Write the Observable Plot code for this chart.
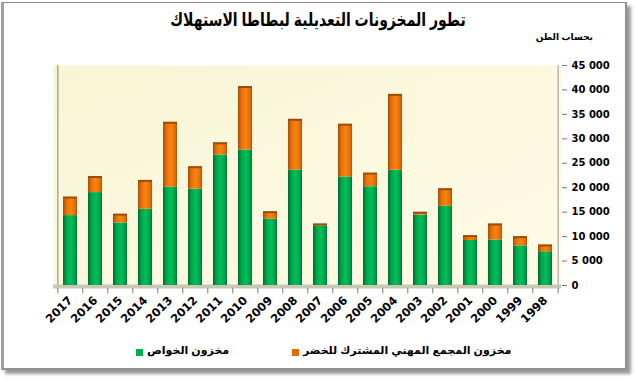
<!DOCTYPE html>
<html><head><meta charset="utf-8">
<script src="https://cdn.jsdelivr.net/npm/d3@7"></script>
<script src="https://cdn.jsdelivr.net/npm/@observablehq/plot@0.6"></script>
<style>
body{margin:0;background:#fff;}
#wrap{position:relative;width:635px;height:380px;overflow:hidden;font-family:"Liberation Sans","DejaVu Sans",sans-serif;background:#fff;}
#frame{position:absolute;left:1px;top:2px;width:621px;height:365px;border-top:1px solid #8a8a8a;border-left:3px solid #a0a0a0;border-right:2px solid #909090;border-bottom:2px solid #909090;box-shadow:4px 4px 3px #9a9a9a;}
#chart{position:absolute;left:0;top:0;}
#title{position:absolute;left:0;top:11px;width:636px;text-align:center;font-weight:bold;font-size:14px;color:#000;transform:scale(1,1.3);transform-origin:50% 50%;}
#unit{position:absolute;right:42px;top:32px;font-size:9px;font-weight:bold;color:#000;white-space:nowrap;}
.sq{position:absolute;width:7px;height:7px;}
.lt{position:absolute;font-size:11px;font-weight:bold;color:#000;white-space:nowrap;}
</style></head><body>
<div id="wrap">
<div id="frame"></div>
<div id="chart"></div>
<div id="title" dir="rtl">تطور المخزونات التعديلية لبطاطا الاستهلاك</div>
<div id="unit" dir="rtl">بحساب الطن</div>
<div class="sq" style="left:136px;top:349px;background:#00B050"></div>
<div class="lt" id="l1" dir="rtl" style="left:147px;top:344px"></div>
<div class="sq" style="left:292px;top:349px;background:#E36C0A"></div>
<div class="lt" id="l2" dir="rtl" style="left:303px;top:344px"></div>
</div>
<script>
const years = ["2017","2016","2015","2014","2013","2012","2011","2010","2009","2008","2007","2006","2005","2004","2003","2002","2001","2000","1999","1998"];
const privateStock = [14300,19000,12800,15600,20100,19700,26700,27700,13600,23600,12200,22200,20200,23600,14400,16200,9200,9300,8100,6900];
const commonStock = [3700,3200,1700,5800,13200,4500,2400,12900,1400,10300,300,10700,2700,15400,500,3500,900,3200,1800,1300];
const seriesNames = ["مخزون الخواص","مخزون المجمع المهني المشترك للخضر"];
const yTicks = [0,5000,10000,15000,20000,25000,30000,35000,40000,45000];

document.getElementById("l1").textContent = seriesNames[0];
document.getElementById("l2").textContent = seriesNames[1];

const rows = years.map((y,i)=>({year:y, priv:privateStock[i], common:commonStock[i], total:privateStock[i]+commonStock[i]}));
const step = 508/20;
const fmt = d => d3.format(",")(d).replace(/,/g," ");

const svg = Plot.plot({
  width: 635, height: 335,
  marginTop: 65, marginBottom: 50, marginLeft: 53, marginRight: 74,
  style: {background:"transparent", fontFamily:"'DejaVu Sans',sans-serif"},
  x: {domain: years, paddingInner: 0.45, paddingOuter: 0.225},
  y: {domain: [0,45000]},
  marks: [
    Plot.frame({fill:"url(#gWall)", stroke:null}),
    Plot.ruleX([years[0]], {dx: -step/2, y1: 0, y2: 45000, stroke:"#a8a8a0", strokeWidth:1.5}),
    Plot.ruleX([years[years.length-1]], {dx: step/2, y1: 0, y2: 45000, stroke:"#b8b8b0", strokeWidth:1.5}),
    Plot.ruleY([0], {stroke:"#c9c8b4", strokeWidth:4, dy:1}),
    Plot.ruleX(years, {dx: -step/2, y1: -600, y2: -1700, stroke:"#777"}),
    Plot.ruleX([years[years.length-1]], {dx: step/2, y1: -600, y2: -1700, stroke:"#777"}),
    Plot.barY(rows, {x:"year", y1:0, y2:"priv", fill:"url(#gGreen)"}),
    Plot.barY(rows, {x:"year", y1:"priv", y2:"total", fill:"url(#gOrange)"}),
    Plot.tickY(rows, {x:"year", y:"total", stroke:"#9c4a05", strokeWidth:2}),
    Plot.axisY(yTicks, {anchor:"right", tickSize:5, tickPadding:5, tickFormat: fmt, fontWeight:"bold", fontSize:10, label:null, stroke:"#777"}),
    Plot.axisX({tickRotate:-45, tickSize:0, tickPadding:13, dx:0, fontWeight:"bold", fontSize:11.5, label:null})
  ]
});
const defs = document.createElementNS("http://www.w3.org/2000/svg","defs");
defs.innerHTML = `
<linearGradient id="gGreen" x1="0" x2="1" y1="0" y2="0">
 <stop offset="0" stop-color="#006b30"/><stop offset="0.25" stop-color="#00a64a"/>
 <stop offset="0.55" stop-color="#00c05a"/><stop offset="0.85" stop-color="#00a048"/><stop offset="1" stop-color="#00753a"/>
</linearGradient>
<linearGradient id="gOrange" x1="0" x2="1" y1="0" y2="0">
 <stop offset="0" stop-color="#a84c05"/><stop offset="0.25" stop-color="#e8700a"/>
 <stop offset="0.55" stop-color="#f8840f"/><stop offset="0.85" stop-color="#e46e0a"/><stop offset="1" stop-color="#b25205"/>
</linearGradient>
<linearGradient id="gWall" x1="0" x2="1" y1="0" y2="1">
 <stop offset="0" stop-color="#f8f5d6"/><stop offset="1" stop-color="#fdfbe6"/>
</linearGradient>`;
svg.insertBefore(defs, svg.firstChild);
document.getElementById("chart").appendChild(svg);
</script>
</body></html>
